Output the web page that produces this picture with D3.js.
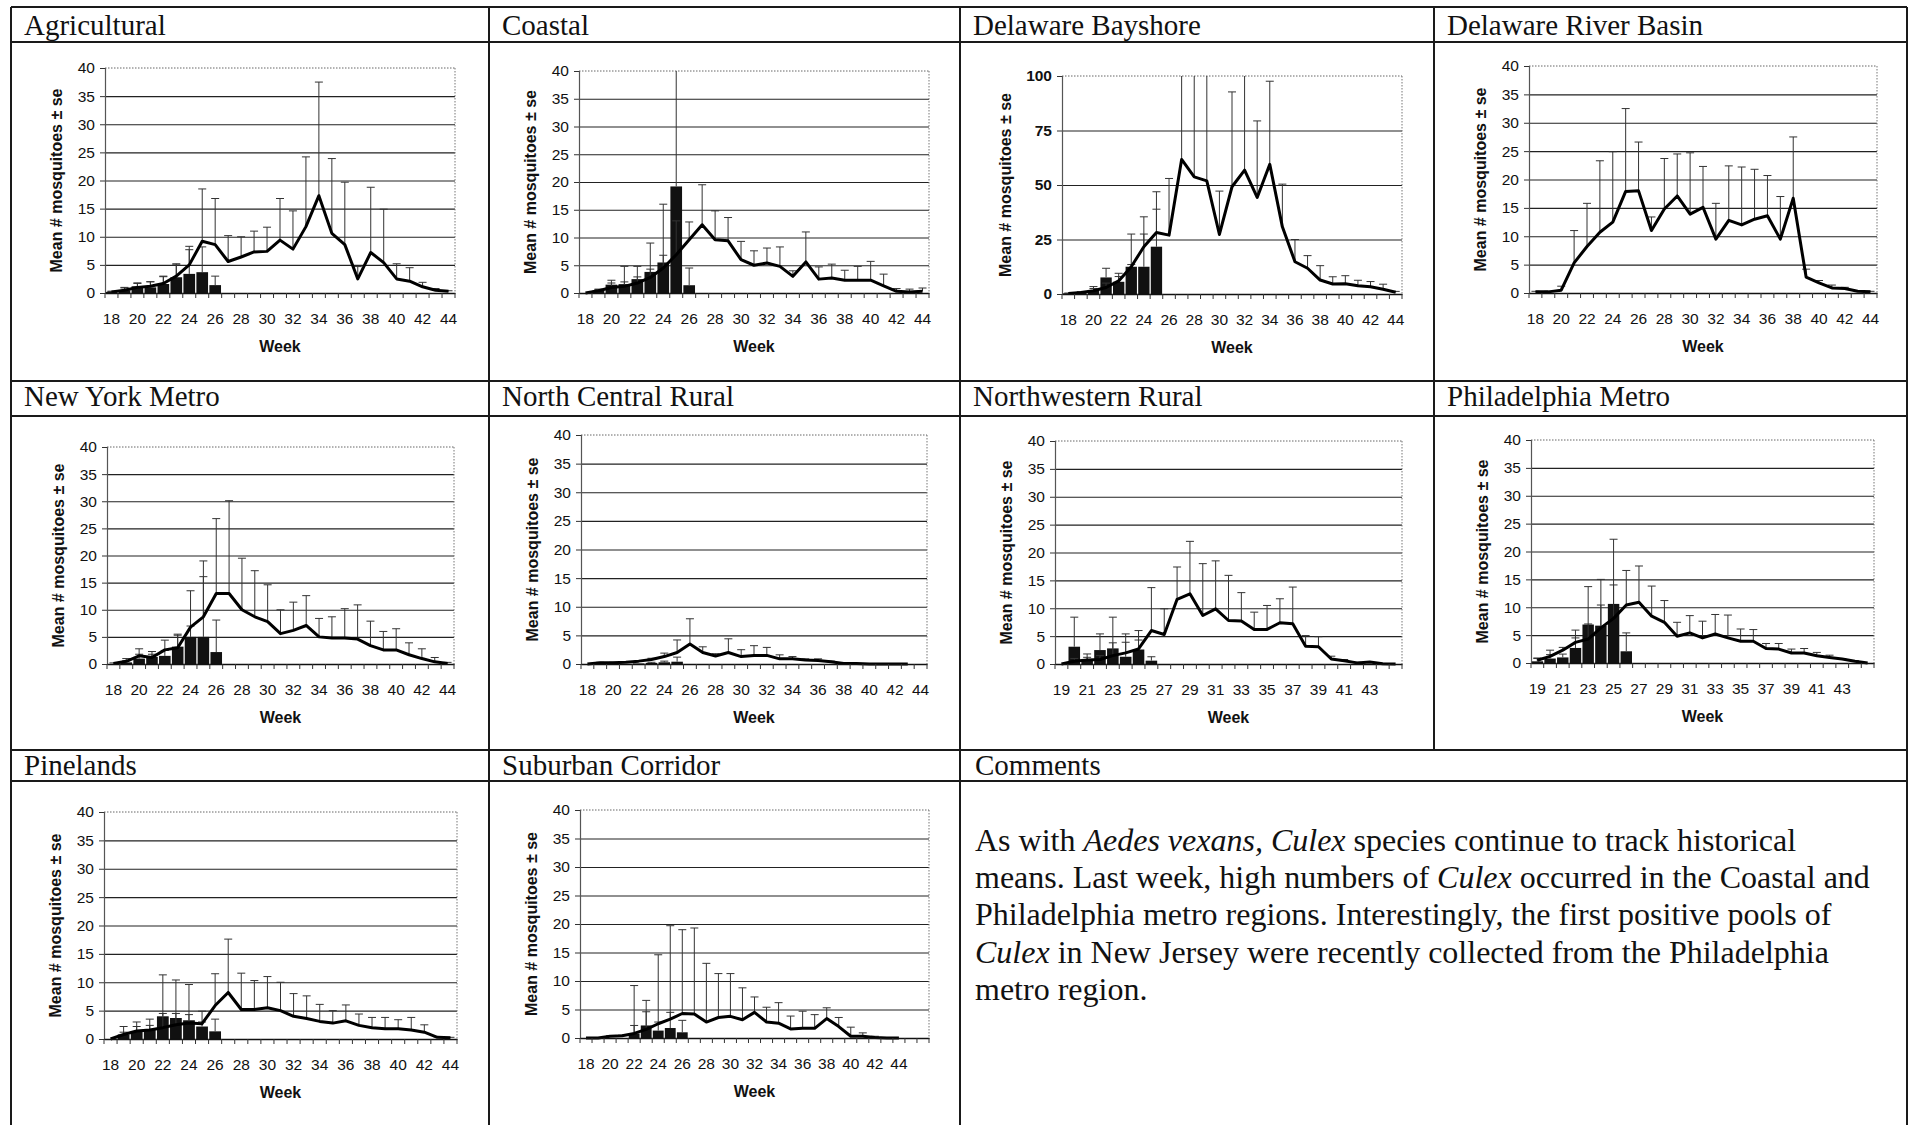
<!DOCTYPE html>
<html><head><meta charset="utf-8">
<script src="https://cdn.jsdelivr.net/npm/d3@7"></script>
<style>body{margin:0;background:#fff}svg{display:block}</style>
</head><body>
<svg id="c" width="1910" height="1125"></svg>
<script>
// ---------------- DATA ----------------
const WEEKS_18_44 = ["18","19","20","21","22","23","24","25","26","27","28","29","30","31","32","33","34","35","36","37","38","39","40","41","42","43","44"];
const WEEKS_19_45 = ["19","20","21","22","23","24","25","26","27","28","29","30","31","32","33","34","35","36","37","38","39","40","41","42","43","44",""];
const WEEKS_18_46 = ["18","19","20","21","22","23","24","25","26","27","28","29","30","31","32","33","34","35","36","37","38","39","40","41","42","43","44","",""];

const REGIONS = ["Agricultural","Coastal","Delaware Bayshore","Delaware River Basin","New York Metro","North Central Rural","Northwestern Rural","Philadelphia Metro","Pinelands","Suburban Corridor"];

// historical mean (line) and its se; current year (bars) and its se
const agriMean = [0.2,0.5,1.0,1.2,1.7,3.0,5.0,9.2,8.6,5.6,6.4,7.3,7.4,9.4,7.8,11.8,17.3,10.6,8.6,2.5,7.2,5.4,2.5,2.1,1.1,0.5,0.3];
const agriSe   = [0.1,0.5,0.7,0.8,1.3,2.2,3.3,9.3,8.2,4.6,3.6,3.7,4.3,7.4,6.8,12.4,20.2,13.3,11.1,2.2,11.6,9.5,2.7,2.4,0.8,0.3,0.1];
const agriCur  = [0.2,0.5,1.2,1.0,1.6,2.8,3.4,3.7,1.4];
const agriCurSe= [0.1,0.4,0.6,1.0,1.3,2.2,4.3,4.5,1.6];

const coastMean = [0,0.4,1.0,1.2,1.8,2.8,4.5,6.9,9.6,12.3,9.6,9.4,6.0,5.0,5.4,4.8,3.0,5.6,2.5,2.7,2.3,2.3,2.3,1.3,0.3,0.2,0.3];
const coastSe   = [0,0.2,1.3,3.6,3.0,6.2,11.5,6.1,3.2,7.2,5.2,4.2,3.3,2.6,2.7,3.5,1.0,5.4,2.2,2.5,1.8,2.5,3.4,2.1,0.5,0.5,0.6];
const coastCur  = [0,0.5,1.5,1.6,2.5,3.8,5.5,19.2,1.4];
const coastCurSe= [0,0.2,0.3,0.4,0.4,0.5,1.3,25.8,3.1];

const bayMean = [0.2,0.7,1.5,3.0,6.0,12.5,21.7,28.2,27.0,61.7,53.7,51.9,27.3,49.2,56.8,44.3,59.5,30.8,14.8,11.8,6.4,4.6,4.7,3.8,3.3,2.2,0.8];
const baySe   = [0.1,0.3,1.9,2.0,3.5,15.0,13.7,18.7,26.0,68.3,76.3,78.1,19.9,43.5,73.2,35.1,38.1,19.6,10.2,5.8,6.6,3.3,3.7,2.5,2.4,2.3,0.4];
const bayCur  = [0.3,0.5,1.8,7.6,5.6,12.5,12.5,21.7];
const bayCurSe= [0.1,0.3,0.7,4.2,2.4,1.0,15.0,17.2];

const drbMean = [0.2,0.2,0.5,5.3,8.2,10.7,12.5,17.9,18.0,11.0,14.8,17.1,13.9,15.1,9.5,12.8,12.0,13.0,13.6,9.5,16.7,2.8,1.8,0.9,0.8,0.3,0.2];
const drbSe   = [0.1,0.1,0.7,5.7,7.6,12.6,12.4,14.6,8.6,2.4,8.9,7.4,10.8,7.2,6.3,9.6,10.2,8.8,7.1,7.5,10.8,1.4,0.4,0.5,0.2,0.1,0.1];
const drbCur  = [];
const drbCurSe= [];

const nyMean = [0.1,0.5,1.5,1.2,2.6,3.0,6.8,8.7,13.0,13.0,10.0,8.7,7.8,5.6,6.2,7.1,5.0,4.8,4.8,4.6,3.4,2.6,2.6,1.7,1.0,0.4,0.1];
const nySe   = [0.1,0.5,1.3,1.1,1.8,2.5,6.7,10.3,13.8,17.1,9.5,8.5,6.8,4.4,5.2,5.5,3.4,3.9,5.4,6.3,4.5,3.4,3.9,2.2,1.8,0.8,0.2];
const nyCur  = [0,0.3,1.0,1.3,1.5,3.2,5.0,5.0,2.2];
const nyCurSe= [0,0.3,0.8,0.5,1.0,2.1,2.0,11.1,5.9];

const ncrMean = [0,0.2,0.2,0.3,0.5,0.8,1.3,2.0,3.5,2.0,1.4,2.0,1.3,1.5,1.5,0.9,0.9,0.7,0.6,0.4,0.1,0.1,0,0,0,0,null];
const ncrSe   = [0,0.1,0.1,0.1,0.1,0.2,0.6,2.2,4.4,1.0,0.4,2.4,1.2,1.7,1.4,0.7,0.4,0.2,0.3,0.1,0.1,0,0,0,0,0,null];
const ncrCur  = [0,0,0,0,0.1,0.2,0.3,0.4];
const ncrCurSe= [0,0,0,0,0,0.1,0.2,0.8];

const nwMean = [0,0.5,0.7,0.8,1.5,2.0,2.7,6.0,5.3,11.6,12.6,8.7,9.9,7.8,7.7,6.2,6.2,7.4,7.2,3.2,3.1,0.9,0.6,0.2,0.35,0.05,0];
const nwSe   = [0,0.5,0.5,0.7,2.3,3.4,3.3,7.7,4.6,5.8,9.4,9.3,8.6,8.1,5.1,3.1,4.3,4.3,6.6,1.9,1.8,0.5,0.2,0.1,0.05,0.05,0];
const nwCur  = [0,3.1,0.8,2.5,2.8,1.3,2.6,0.6];
const nwCurSe= [0,5.3,1.0,2.9,5.6,2.6,1.7,0.7];

const phlMean = [0.5,1.2,2.3,3.7,4.3,6.3,8.0,10.4,10.9,8.4,7.3,4.8,5.4,4.5,5.2,4.5,3.9,3.9,2.6,2.5,1.8,1.8,1.3,1.0,0.7,0.3,0];
const phlSe   = [0.4,1.1,0.5,2.2,2.7,8.7,6.0,6.2,6.5,5.4,3.9,2.5,3.1,3.0,3.5,4.1,2.2,2.1,0.9,1.0,0.7,0.8,0.6,0.4,0.1,0.1,0];
const phlCur  = [0.3,0.8,1.0,2.7,6.9,6.7,10.6,2.1];
const phlCurSe= [0.5,0.7,0.6,1.8,6.8,3.7,11.6,3.3];

const pineMean = [0,0.8,1.4,1.6,2.0,2.5,2.8,2.7,5.9,8.2,5.2,5.2,5.5,5.0,4.0,3.6,3.1,2.8,3.2,2.4,2.0,1.8,1.8,1.6,1.2,0.3,0.2];
const pineSe   = [0,1.4,1.6,1.9,9.3,7.9,6.8,2.2,5.6,9.4,6.4,5.1,5.5,5.0,4.0,4.0,3.0,2.2,2.8,2.0,1.8,2.0,1.6,2.2,1.3,0.1,0.1];
const pineCur  = [0,0.8,1.35,1.6,4.0,3.7,3.3,2.2,1.35];
const pineCurSe= [0,0.4,0.85,0.8,0.5,0.8,1.0,0.8,2.15];

const subMean = [0,0,0.3,0.4,0.8,1.5,2.5,3.3,4.3,4.2,2.8,3.6,3.8,3.2,4.5,2.8,2.6,1.6,1.7,1.7,3.4,2.0,0.3,0.3,0.1,0,0,null,null];
const subSe   = [0,0,0.1,0.1,8.4,5.1,12.1,16.4,14.7,15.1,10.3,7.7,7.5,5.6,2.7,2.6,3.6,2.25,3.0,2.4,1.9,1.6,1.6,0.6,0.2,0,0,null,null];
const subCur  = [0,0,0,0,0.8,2.2,1.3,1.75,1.0];
const subCurSe= [0,0,0,0,1.4,2.4,1.5,2.75,2.1];

const Y_TICKS_40 = [0,5,10,15,20,25,30,35,40];
const Y_TICKS_100 = [0,25,50,75,100];

const Y_TITLE = "Mean # mosquitoes \u00b1 se";
const X_TITLE = "Week";
const COMMENTS_TITLE = "Comments";
const COMMENT_LINES = [
  [["As with ",0],["Aedes vexans, Culex",1],[" species continue to track historical",0]],
  [["means. Last week, high numbers of ",0],["Culex",1],[" occurred in the Coastal and",0]],
  [["Philadelphia metro regions. Interestingly, the first positive pools of",0]],
  [["Culex",1],[" in New Jersey were recently collected from the Philadelphia",0]],
  [["metro region.",0]]
];

// panels assembled from the arrays above
const PANELS = [
  {weeks:WEEKS_18_44, mean:agriMean, se:agriSe, cur:agriCur, curSe:agriCurSe, ticks:Y_TICKS_40},
  {weeks:WEEKS_18_44, mean:coastMean, se:coastSe, cur:coastCur, curSe:coastCurSe, ticks:Y_TICKS_40},
  {weeks:WEEKS_18_44, mean:bayMean, se:baySe, cur:bayCur, curSe:bayCurSe, ticks:Y_TICKS_100, boldY:true},
  {weeks:WEEKS_18_44, mean:drbMean, se:drbSe, cur:drbCur, curSe:drbCurSe, ticks:Y_TICKS_40},
  {weeks:WEEKS_18_44, mean:nyMean, se:nySe, cur:nyCur, curSe:nyCurSe, ticks:Y_TICKS_40},
  {weeks:WEEKS_18_44, mean:ncrMean, se:ncrSe, cur:ncrCur, curSe:ncrCurSe, ticks:Y_TICKS_40},
  {weeks:WEEKS_19_45, mean:nwMean, se:nwSe, cur:nwCur, curSe:nwCurSe, ticks:Y_TICKS_40},
  {weeks:WEEKS_19_45, mean:phlMean, se:phlSe, cur:phlCur, curSe:phlCurSe, ticks:Y_TICKS_40},
  {weeks:WEEKS_18_44, mean:pineMean, se:pineSe, cur:pineCur, curSe:pineCurSe, ticks:Y_TICKS_40},
  {weeks:WEEKS_18_46, mean:subMean, se:subSe, cur:subCur, curSe:subCurSe, ticks:Y_TICKS_40}
];

// ---------------- LAYOUT ----------------
const COLS = [11, 489, 960, 1434, 1907];
const ROWS = [{top:7, band:42, base:35}, {top:381, band:416, base:406}, {top:750, band:781, base:775}];
const PLOTS = [
  {l:105,r:455,t:68,b:293, yt:49},
  {l:579,r:929,t:71,b:293, yt:49},
  {l:1062,r:1402,t:76,b:294, yt:57},
  {l:1529,r:1877,t:66,b:293, yt:49},
  {l:107,r:454,t:447,b:664, yt:49},
  {l:581,r:927,t:435,b:664, yt:49},
  {l:1055,r:1402,t:441,b:664, yt:49},
  {l:1531,r:1874,t:440,b:663, yt:49},
  {l:104,r:457,t:812,b:1039, yt:49},
  {l:580,r:929,t:810,b:1038, yt:49}
];

const SANS = "'Liberation Sans', Arial, Helvetica, sans-serif";
const SERIF = "'Liberation Serif', 'Times New Roman', Times, serif";
const svg = d3.select('#c');

// ---------------- FRAME ----------------
const frame = svg.append('g').attr('stroke','#1a1a1a').attr('stroke-width',2).attr('fill','none');
ROWS.forEach(r => {
  frame.append('line').attr('x1',COLS[0]).attr('x2',COLS[4]).attr('y1',r.top).attr('y2',r.top);
  frame.append('line').attr('x1',COLS[0]).attr('x2',COLS[4]).attr('y1',r.band).attr('y2',r.band);
});
[COLS[0],COLS[1],COLS[2],COLS[4]].forEach(cx => frame.append('line').attr('x1',cx).attr('x2',cx).attr('y1',ROWS[0].top).attr('y2',1125));
frame.append('line').attr('x1',COLS[3]).attr('x2',COLS[3]).attr('y1',ROWS[0].top).attr('y2',ROWS[2].top);

// titles
REGIONS.forEach((name,k) => {
  const row = Math.floor(k/4), col = k%4;
  svg.append('text').attr('x',COLS[col]+13).attr('y',ROWS[row].base)
    .attr('font-family',SERIF).attr('font-size',29).attr('fill','#111').text(name);
});
svg.append('text').attr('x',COLS[2]+15).attr('y',ROWS[2].base)
  .attr('font-family',SERIF).attr('font-size',29).attr('fill','#111').text(COMMENTS_TITLE);

// comments
const ct = svg.append('text').attr('font-family',SERIF).attr('font-size',32).attr('fill','#111');
COMMENT_LINES.forEach((ln,i) => {
  ln.forEach((seg,j) => {
    const ts = ct.append('tspan').text(seg[0]).attr('font-style', seg[1] ? 'italic' : 'normal');
    if (j === 0) ts.attr('x', 975).attr('y', 851 + i*37.2);
  });
});

// ---------------- CHARTS ----------------
function drawChart(p, L) {
  const n = p.weeks.length;
  const yMax = p.ticks[p.ticks.length-1];
  const x = d3.scaleBand().domain(d3.range(n)).range([L.l, L.r]);
  const y = d3.scaleLinear().domain([0, yMax]).range([L.b, L.t]);
  const cx = i => x(i) + x.bandwidth()/2;
  const g = svg.append('g');

  // gridlines
  const grid = g.append('g').attr('transform',`translate(${L.l},0)`)
    .call(d3.axisLeft(y).tickValues(p.ticks.slice(1,-1)).tickSize(-(L.r-L.l)).tickFormat(''));
  grid.select('.domain').remove();
  grid.selectAll('line').attr('stroke','#222').attr('stroke-width',1.1);

  // dotted plot-area border top & right
  g.append('line').attr('x1',L.l).attr('x2',L.r).attr('y1',y(yMax)).attr('y2',y(yMax))
    .attr('stroke','#666').attr('stroke-dasharray','1.5,1.5');
  g.append('line').attr('x1',L.r).attr('x2',L.r).attr('y1',y(yMax)).attr('y2',y(0))
    .attr('stroke','#777').attr('stroke-dasharray','1.5,1.5');

  // bars (current year)
  const bw = x.bandwidth()*0.9;
  const barData = p.cur.map((v,i)=>({v,s:p.curSe[i],i})).filter(d => d.v != null);
  g.append('g').selectAll('rect').data(barData.filter(d=>d.v>0)).join('rect')
    .attr('x', d => cx(d.i) - bw/2).attr('width', bw)
    .attr('y', d => y(d.v)).attr('height', d => y(0) - y(d.v))
    .attr('fill','#111');

  function errBars(data) {
    const eg = g.append('g').attr('stroke','#333').attr('stroke-width',1);
    const d2 = data.filter(d => d.v != null && d.s != null && d.s > 0);
    eg.selectAll('line.v').data(d2).join('line').attr('class','v')
      .attr('x1', d=>cx(d.i)).attr('x2', d=>cx(d.i))
      .attr('y1', d=>y(d.v)).attr('y2', d=>y(Math.min(d.v+d.s, yMax)));
    eg.selectAll('line.c').data(d2.filter(d => d.v+d.s <= yMax)).join('line').attr('class','c')
      .attr('x1', d=>cx(d.i)-4).attr('x2', d=>cx(d.i)+4)
      .attr('y1', d=>y(d.v+d.s)).attr('y2', d=>y(d.v+d.s));
  }
  errBars(barData);
  const lineData = p.mean.map((v,i)=>({v,s:p.se[i],i}));
  errBars(lineData);

  // historical mean line
  g.append('path').datum(lineData)
    .attr('d', d3.line().defined(d=>d.v!=null).x(d=>cx(d.i)).y(d=>y(d.v)))
    .attr('fill','none').attr('stroke','#000').attr('stroke-width',3).attr('stroke-linejoin','round');

  // y axis
  const ya = g.append('g').attr('transform',`translate(${L.l},0)`)
    .call(d3.axisLeft(y).tickValues(p.ticks).tickSize(5).tickPadding(5));
  ya.select('.domain').attr('stroke','#555').attr('stroke-width',1.2);
  ya.selectAll('.tick line').attr('stroke','#333');
  ya.selectAll('text').attr('font-family',SANS).attr('font-size',15.5)
    .attr('font-weight', p.boldY ? 'bold' : 'normal').attr('fill','#111');

  // x axis
  const xa = g.append('g').attr('transform',`translate(0,${L.b})`)
    .call(d3.axisBottom(x).tickValues(d3.range(0,n,2)).tickFormat(i=>p.weeks[i]).tickSize(0).tickPadding(20));
  xa.select('.domain').attr('stroke','#111').attr('stroke-width',1.5);
  xa.selectAll('text').attr('font-family',SANS).attr('font-size',15.5).attr('fill','#111');
  g.append('g').selectAll('line').data(d3.range(n+1)).join('line')
    .attr('x1', i => i<n ? x(i) : L.r).attr('x2', i => i<n ? x(i) : L.r)
    .attr('y1', L.b).attr('y2', L.b+5).attr('stroke','#333');

  // axis titles
  g.append('text').attr('x',(L.l+L.r)/2).attr('y',L.b+53).attr('dy','0.35em')
    .attr('text-anchor','middle').attr('font-family',SANS).attr('font-size',16)
    .attr('font-weight','bold').attr('fill','#111').text(X_TITLE);
  g.append('text').attr('transform',`translate(${L.l-L.yt},${(L.t+L.b)/2}) rotate(-90)`)
    .attr('dy','0.35em').attr('text-anchor','middle').attr('font-family',SANS).attr('font-size',16)
    .attr('font-weight','bold').attr('fill','#111').text(Y_TITLE);
}

PANELS.forEach((p,k) => drawChart(p, PLOTS[k]));
</script>
</body></html>
